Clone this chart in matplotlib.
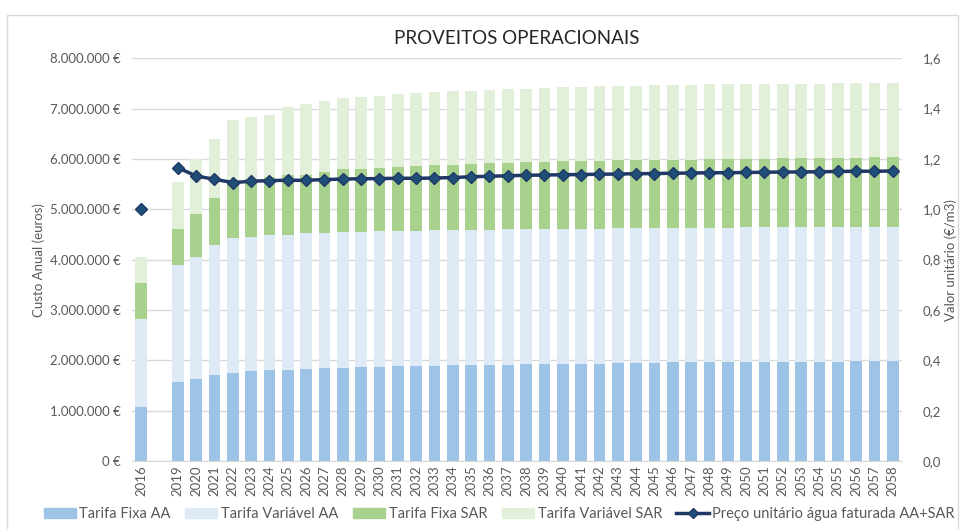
import matplotlib.pyplot as plt
import matplotlib.patches as mpatches
from matplotlib.lines import Line2D
from matplotlib.ticker import FuncFormatter
import numpy as np

plt.rcParams['font.family'] = ['Lato', 'DejaVu Sans']

# categories (one empty slot between 2016 and 2019, as in the source)
years = ['2016', ''] + [str(y) for y in range(2019, 2059)]

# stacked components, in euros
fixa_aa = [1.08, np.nan,
           1.57, 1.62, 1.71, 1.75, 1.78, 1.80, 1.81, 1.83, 1.84, 1.85,
           1.86, 1.87, 1.88, 1.88, 1.89, 1.90, 1.90, 1.91, 1.91, 1.92,
           1.92, 1.92, 1.93, 1.93, 1.94, 1.94, 1.95, 1.96, 1.96, 1.96,
           1.96, 1.96, 1.97, 1.97, 1.97, 1.97, 1.97, 1.98, 1.98, 1.98]
top_var_aa = [2.83, np.nan,
              3.89, 4.05, 4.29, 4.42, 4.45, 4.48, 4.49, 4.52, 4.53, 4.54,
              4.54, 4.56, 4.57, 4.57, 4.58, 4.58, 4.59, 4.59, 4.60, 4.60,
              4.60, 4.61, 4.61, 4.61, 4.62, 4.62, 4.62, 4.63, 4.63, 4.63,
              4.63, 4.64, 4.64, 4.64, 4.64, 4.64, 4.65, 4.65, 4.65, 4.65]
top_fixa_sar = [3.53, np.nan,
                4.61, 4.91, 5.23, 5.54, 5.60, 5.65, 5.68, 5.69, 5.74, 5.79,
                5.80, 5.81, 5.84, 5.85, 5.87, 5.88, 5.89, 5.91, 5.92, 5.93,
                5.94, 5.95, 5.96, 5.96, 5.97, 5.97, 5.97, 5.98, 5.98, 5.99,
                6.00, 6.00, 6.00, 6.01, 6.01, 6.01, 6.02, 6.02, 6.03, 6.03]
top_var_sar = [4.05, np.nan,
               5.54, 5.99, 6.40, 6.77, 6.83, 6.88, 7.04, 7.10, 7.15, 7.20,
               7.22, 7.24, 7.28, 7.30, 7.32, 7.34, 7.34, 7.36, 7.38, 7.39,
               7.41, 7.43, 7.43, 7.44, 7.45, 7.45, 7.47, 7.47, 7.47, 7.48,
               7.48, 7.48, 7.49, 7.49, 7.49, 7.49, 7.50, 7.51, 7.51, 7.51]

# unit price (EUR/m3), right axis
preco = [1.00, np.nan,
         1.165, 1.132, 1.119, 1.106, 1.111, 1.114, 1.115, 1.115, 1.118, 1.120,
         1.121, 1.122, 1.123, 1.123, 1.124, 1.126, 1.129, 1.131, 1.133, 1.135,
         1.136, 1.137, 1.138, 1.139, 1.140, 1.141, 1.142, 1.143, 1.144, 1.145,
         1.145, 1.146, 1.147, 1.148, 1.148, 1.149, 1.150, 1.151, 1.151, 1.152]

scale = 1e6
fixa_aa = np.array(fixa_aa) * scale
var_aa = np.array(top_var_aa) * scale - fixa_aa
fixa_sar = (np.array(top_fixa_sar) - np.array(top_var_aa)) * scale
var_sar = (np.array(top_var_sar) - np.array(top_fixa_sar)) * scale
preco = np.array(preco)

c_fixa_aa = '#9DC3E6'
c_var_aa = '#DEEBF7'
c_fixa_sar = '#A9D18E'
c_var_sar = '#E2F0D9'
c_line = '#1F3864'
c_marker = '#1F4E79'
c_text = '#595959'

fig = plt.figure(figsize=(9.6, 5.29), dpi=100)
ax = fig.add_axes([0.1375, 0.1285, 0.802, 0.7615])

x = np.arange(len(years))
w = 0.64
ax.bar(x, fixa_aa, w, color=c_fixa_aa, zorder=2)
ax.bar(x, var_aa, w, bottom=fixa_aa, color=c_var_aa, zorder=2)
ax.bar(x, fixa_sar, w, bottom=fixa_aa + var_aa, color=c_fixa_sar, zorder=2)
ax.bar(x, var_sar, w, bottom=fixa_aa + var_aa + fixa_sar, color=c_var_sar, zorder=2)

ax.set_ylim(0, 8e6)
ax.set_yticks(np.arange(0, 8.01e6, 1e6))
ax.yaxis.set_major_formatter(FuncFormatter(
    lambda v, p: '{:,.0f} €'.format(v).replace(',', '.')))
ax.set_xlim(-0.5, len(years) - 0.5)
ax.set_xticks(x)
ax.set_xticklabels(years, rotation=90)
ax.grid(axis='y', color='#D9D9D9', linewidth=1, zorder=0)
ax.set_axisbelow(True)
for s in ax.spines.values():
    s.set_visible(False)
ax.spines['bottom'].set_visible(True)
ax.spines['bottom'].set_color('#D9D9D9')
ax.tick_params(length=0, colors=c_text, labelsize=9.5)
ax.tick_params(axis='x', pad=3)
ax.tick_params(axis='y', pad=8)
ax.set_ylabel('Custo Anual (euros)', color=c_text, fontsize=9.5, labelpad=4)

ax2 = ax.twinx()
ax2.plot(x, preco, color=c_line, linewidth=2.5, marker='D', markersize=6,
         markerfacecolor=c_marker, markeredgecolor=c_line, zorder=5)
ax2.set_ylim(0, 1.6)
ax2.set_yticks(np.arange(0, 1.61, 0.2))
ax2.yaxis.set_major_formatter(FuncFormatter(
    lambda v, p: '{:.1f}'.format(v).replace('.', ',')))
for s in ax2.spines.values():
    s.set_visible(False)
ax2.tick_params(length=0, colors=c_text, labelsize=9.5, pad=15)
ax2.set_ylabel('Valor unitário (€/m3)', color=c_text, fontsize=9.5, labelpad=2)

ax.set_title('PROVEITOS OPERACIONAIS', fontsize=13.5, color='#262626', pad=10)

handles = [
    mpatches.Patch(color=c_fixa_aa, label='Tarifa Fixa AA'),
    mpatches.Patch(color=c_var_aa, label='Tarifa Variável AA'),
    mpatches.Patch(color=c_fixa_sar, label='Tarifa Fixa SAR'),
    mpatches.Patch(color=c_var_sar, label='Tarifa Variável SAR'),
    Line2D([], [], color=c_line, linewidth=2.5, marker='D', markersize=5,
           markerfacecolor=c_marker, label='Preço unitário água faturada AA+SAR'),
]
fig.legend(handles=handles, loc='center', bbox_to_anchor=(0.52, 0.028), ncol=5,
           frameon=False, fontsize=10.5, handlelength=2.2, handleheight=0.7,
           columnspacing=1.0, handletextpad=0.25, labelcolor=c_text)

# outer chart border
fig.patches.append(mpatches.Rectangle((7 / 960, -0.01), 951 / 960, 1 - 15 / 529 + 0.01,
                                      transform=fig.transFigure, fill=False,
                                      edgecolor='#D9D9D9', linewidth=1))

fig.savefig('out.png', dpi=100)
